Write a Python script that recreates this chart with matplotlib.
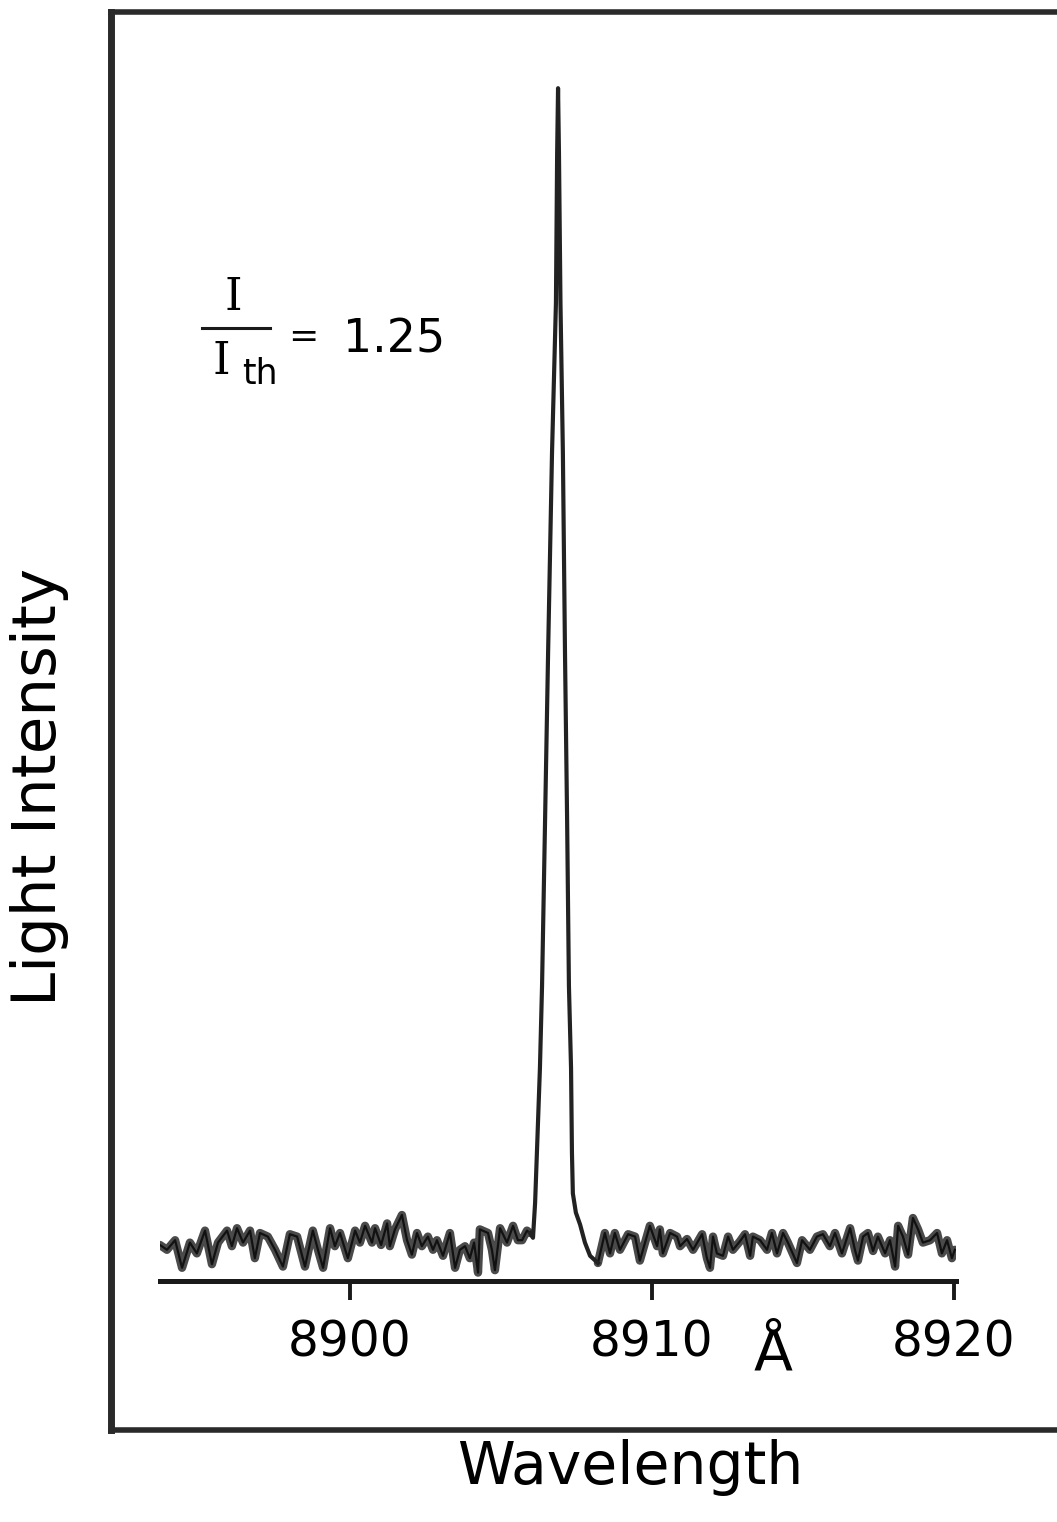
"""
Espectro de emisión por encima del umbral (I / I_th = 1.25).
Traza del registrador: línea estrecha cerca de 8907 Å sobre un fondo ruidoso.
"""
import matplotlib
matplotlib.use("Agg")
import matplotlib.pyplot as plt
from matplotlib.lines import Line2D

# longitud de onda (Å) y señal (unidades arbitrarias, 0-100)
noise_left_wl = [
    8893.71, 8893.94, 8894.21, 8894.44, 8894.70, 8894.93, 8895.20, 8895.43,
    8895.63, 8895.93, 8896.09, 8896.26, 8896.46, 8896.69, 8896.85, 8897.02,
    8897.28, 8897.52, 8897.78, 8898.01, 8898.25, 8898.51, 8898.77, 8898.94,
    8899.11, 8899.34, 8899.50, 8899.67, 8899.93, 8900.17, 8900.33, 8900.50,
    8900.73, 8900.83, 8901.03, 8901.23, 8901.32, 8901.49, 8901.72, 8901.89,
    8902.05, 8902.22, 8902.38, 8902.58, 8902.75, 8902.88, 8903.08, 8903.31,
    8903.48, 8903.64, 8903.81, 8903.97, 8904.11, 8904.24, 8904.30, 8904.57,
    8904.70, 8904.80, 8904.97, 8905.20, 8905.40, 8905.56, 8905.70, 8905.86,
    8905.96,
]
noise_left_int = [
    3.0, 2.6, 3.4, 1.1, 3.2, 2.3, 4.2, 1.4,
    3.2, 4.2, 2.9, 4.4, 3.2, 4.2, 1.9, 4.0,
    3.7, 2.6, 1.2, 3.9, 3.7, 1.2, 4.2, 2.6,
    1.1, 4.4, 2.9, 4.0, 1.9, 4.2, 3.2, 4.6,
    3.2, 4.4, 3.0, 4.8, 2.9, 4.3, 5.5, 3.4,
    2.2, 4.0, 2.9, 3.7, 2.6, 3.4, 2.1, 4.0,
    1.1, 2.6, 2.9, 1.9, 3.2, 0.7, 4.3, 4.0,
    2.6, 0.9, 4.4, 3.2, 4.6, 3.4, 3.4, 4.2,
    4.0,
]

peak_wl = [
    8905.96, 8906.06, 8906.13, 8906.19, 8906.29, 8906.36, 8906.46, 8906.56,
    8906.69, 8906.82, 8906.86, 8906.89, 8906.92, 8906.97, 8907.05, 8907.12,
    8907.19, 8907.25, 8907.32, 8907.35, 8907.38, 8907.48, 8907.62, 8907.78,
    8907.95, 8908.21,
]
peak_int = [
    4.0, 3.6, 6.5, 10.7, 17.75, 24.6, 38.4, 52.3,
    69.0, 81.5, 94.0, 99.4, 94.0, 81.5, 69.0, 52.3,
    38.4, 24.6, 17.75, 10.7, 7.3, 5.7, 4.7, 3.2,
    2.1, 1.5,
]

noise_right_wl = [
    8908.21, 8908.44, 8908.61, 8908.77, 8908.94, 8909.21, 8909.44, 8909.60,
    8909.77, 8909.93, 8910.17, 8910.26, 8910.36, 8910.60, 8910.83, 8910.93,
    8911.16, 8911.36, 8911.66, 8911.82, 8911.92, 8912.02, 8912.15, 8912.35,
    8912.52, 8912.68, 8912.91, 8913.08, 8913.25, 8913.34, 8913.58, 8913.81,
    8913.97, 8914.14, 8914.34, 8914.50, 8914.80, 8914.97, 8915.23, 8915.46,
    8915.66, 8915.89, 8916.06, 8916.29, 8916.56, 8916.72, 8916.82, 8916.99,
    8917.15, 8917.32, 8917.48, 8917.72, 8917.88, 8918.05, 8918.15, 8918.31,
    8918.48, 8918.64, 8918.81, 8918.97, 8919.21, 8919.44, 8919.60, 8919.77,
    8919.93, 8920.03,
]
noise_right_int = [
    1.5, 4.0, 2.3, 4.0, 2.6, 3.9, 3.7, 1.7,
    3.2, 4.6, 2.9, 4.3, 2.3, 4.0, 3.7, 2.9,
    3.5, 2.6, 3.9, 1.9, 1.1, 3.7, 2.3, 2.1,
    3.7, 2.6, 3.3, 3.9, 2.1, 3.7, 3.4, 2.6,
    4.0, 2.3, 4.0, 3.2, 1.5, 3.4, 2.6, 3.7,
    3.9, 2.9, 4.0, 2.3, 4.4, 2.6, 1.7, 3.7,
    4.0, 2.5, 3.7, 2.3, 3.4, 1.2, 4.6, 3.7,
    2.2, 5.25, 4.3, 3.2, 3.4, 4.0, 2.3, 3.4,
    1.9, 2.6,
]

tick_values = [8900, 8910, 8920]
tick_labels = ["8900", "8910", "8920"]

W, H = 1057, 1522
INK = "#1a1a1a"
fig = plt.figure(figsize=(W / 100, H / 100), dpi=100)

# marco exterior (el borde derecho queda fuera del recorte)
frame = fig.add_axes([111 / W, 1 - 1430 / H, 0.95, (1430 - 12) / H])
frame.set_xticks([]); frame.set_yticks([])
frame.patch.set_alpha(0)
for s in ("left", "top", "bottom"):
    frame.spines[s].set_linewidth(4.0)
    frame.spines[s].set_color("#2a2a2a")
frame.spines["left"].set_linewidth(5.0)
frame.spines["right"].set_visible(False)

ax = fig.add_axes([159.7 / W, 1 - 1281 / H, 795.8 / W, 1200 / H])
ax.patch.set_alpha(0)
# fondo ruidoso: banda gris con borde oscuro, como la pluma del registrador
for wl, inten in ((noise_left_wl, noise_left_int), (noise_right_wl, noise_right_int)):
    ax.plot(wl, inten, color="#4a4a4a", lw=6.0, solid_joinstyle="round",
            solid_capstyle="round")
    ax.plot(wl, inten, color="#111111", lw=1.6, solid_joinstyle="round")
ax.plot(peak_wl, peak_int, color="#222222", lw=3.0, solid_joinstyle="round")
ax.set_xlim(8893.7, 8920.05)
ax.set_ylim(0, 100)
for s in ("left", "top", "right"):
    ax.spines[s].set_visible(False)
ax.spines["bottom"].set_linewidth(3.6)
ax.spines["bottom"].set_color(INK)
ax.set_yticks([])
ax.set_xticks(tick_values, tick_labels)
ax.tick_params(axis="x", direction="out", length=14, width=2.8, color=INK,
               pad=13, labelsize=35)
ax.text(8914.0, -0.062, "Å", transform=ax.get_xaxis_transform(),
        ha="center", va="center", fontsize=41)

# cociente I / I_th
fig.text(233 / W, 1 - 297 / H, "I", family="DejaVu Serif", fontsize=32,
         ha="center", va="center")
fig.add_artist(Line2D([202 / W, 270 / W], [1 - 328 / H, 1 - 328 / H],
                      transform=fig.transFigure, color=INK, lw=2.2))
fig.text(221 / W, 1 - 361 / H, "I", family="DejaVu Serif", fontsize=32,
         ha="center", va="center")
fig.text(260 / W, 1 - 374 / H, "th", fontsize=25, ha="center", va="center")
fig.text(303 / W, 1 - 337 / H, "=", fontsize=26, ha="center", va="center")
fig.text(343 / W, 1 - 340 / H, "1.25", fontsize=33, ha="left", va="center")

fig.text(40 / W, 1 - 787 / H, "Light Intensity", rotation=90, fontsize=44,
         ha="center", va="center")
fig.text(630 / W, 1 - 1468 / H, "Wavelength", fontsize=42,
         ha="center", va="center")

fig.savefig("out.png", dpi=100)
